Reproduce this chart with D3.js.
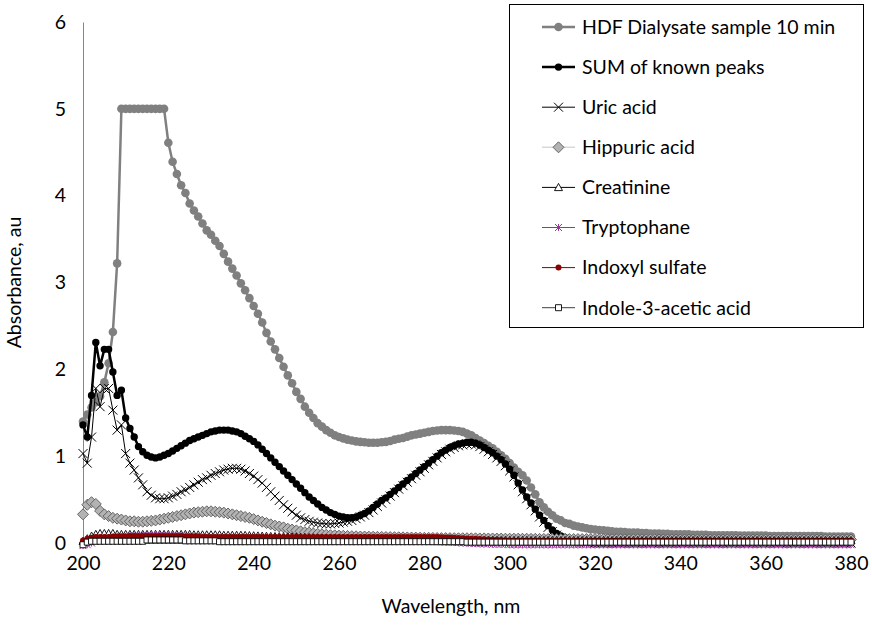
<!DOCTYPE html>
<html lang="en">
<meta charset="utf-8">
<style>
body { margin: 0; background: #fff; }
text { font-family: Lato, "Open Sans", sans-serif; fill: #000; }
.axis path, .axis line { stroke: #868686; }
</style>
<body>
<script src="https://d3js.org/d3.v7.min.js"></script>
<script>

// wavelength grid, 1 nm steps 200..380
var wavelength = d3.range(200, 381);

var hdf = [
  1.40, 1.48, 1.56, 1.62, 1.69, 1.85, 2.07, 2.43, 3.22, 5.00,
  5.00, 5.00, 5.00, 5.00, 5.00, 5.00, 5.00, 5.00, 5.00, 5.00,
  4.61, 4.39, 4.25, 4.12, 4.03, 3.91, 3.83, 3.76, 3.68, 3.60,
  3.55, 3.48, 3.42, 3.33, 3.24, 3.16, 3.08, 2.99, 2.91, 2.82,
  2.73, 2.64, 2.54, 2.42, 2.32, 2.23, 2.13, 2.03, 1.93, 1.84,
  1.74, 1.66, 1.57, 1.50, 1.44, 1.38, 1.34, 1.30, 1.27, 1.24,
  1.22, 1.205, 1.19, 1.18, 1.17, 1.165, 1.16, 1.155, 1.155, 1.155,
  1.16, 1.165, 1.175, 1.19, 1.20, 1.21, 1.225, 1.24, 1.25, 1.26,
  1.27, 1.28, 1.29, 1.295, 1.30, 1.30, 1.30, 1.295, 1.29, 1.28,
  1.26, 1.24, 1.21, 1.18, 1.15, 1.12, 1.09, 1.05, 1.01, 0.97,
  0.92, 0.87, 0.82, 0.78, 0.72, 0.64, 0.56, 0.47, 0.41, 0.36,
  0.32, 0.28, 0.26, 0.23, 0.22, 0.20, 0.19, 0.18, 0.17, 0.16,
  0.155, 0.15, 0.145, 0.14, 0.135, 0.13, 0.13, 0.125, 0.12, 0.12,
  0.12, 0.115, 0.115, 0.11, 0.11, 0.11, 0.105, 0.105, 0.10, 0.10,
  0.10, 0.10, 0.10, 0.095, 0.095, 0.095, 0.095, 0.09, 0.09, 0.09,
  0.09, 0.09, 0.09, 0.09, 0.085, 0.085, 0.085, 0.085, 0.085, 0.085,
  0.085, 0.08, 0.08, 0.08, 0.08, 0.08, 0.08, 0.08, 0.08, 0.08,
  0.08, 0.08, 0.08, 0.08, 0.075, 0.075, 0.075, 0.075, 0.075, 0.075, 0.075
];

var sumPeaks = [
  1.36, 1.22, 1.70, 2.31, 2.04, 2.23, 2.23, 1.97, 1.70, 1.76,
  1.44, 1.32, 1.22, 1.11, 1.05, 1.01, 0.99, 0.98, 0.99, 1.01,
  1.03, 1.06, 1.09, 1.12, 1.15, 1.18, 1.20, 1.22, 1.24, 1.26,
  1.28, 1.29, 1.30, 1.30, 1.30, 1.29, 1.28, 1.26, 1.23, 1.20,
  1.17, 1.13, 1.08, 1.03, 0.98, 0.93, 0.88, 0.83, 0.78, 0.73,
  0.68, 0.63, 0.58, 0.53, 0.49, 0.45, 0.41, 0.38, 0.35, 0.33,
  0.31, 0.30, 0.29, 0.29, 0.30, 0.32, 0.34, 0.37, 0.41, 0.45,
  0.49, 0.52, 0.56, 0.60, 0.64, 0.68, 0.72, 0.76, 0.80, 0.84,
  0.88, 0.92, 0.96, 1.00, 1.04, 1.07, 1.10, 1.12, 1.14, 1.15,
  1.16, 1.16, 1.15, 1.13, 1.10, 1.07, 1.04, 1.00, 0.96, 0.91,
  0.85, 0.78, 0.69, 0.61, 0.53, 0.46, 0.39, 0.32, 0.26, 0.20,
  0.15, 0.11, 0.08, 0.06, 0.045, 0.035, 0.03, 0.03, 0.03, 0.03,
  0.03, 0.03, 0.03, 0.03, 0.03, 0.03, 0.03, 0.03, 0.03, 0.03,
  0.03, 0.03, 0.03, 0.03, 0.03, 0.03, 0.03, 0.03, 0.03, 0.03,
  0.03, 0.03, 0.03, 0.03, 0.03, 0.03, 0.03, 0.03, 0.03, 0.03,
  0.03, 0.03, 0.03, 0.03, 0.03, 0.03, 0.03, 0.03, 0.03, 0.03,
  0.03, 0.03, 0.03, 0.03, 0.03, 0.03, 0.03, 0.03, 0.03, 0.03,
  0.03, 0.03, 0.03, 0.03, 0.03, 0.03, 0.03, 0.03, 0.03, 0.03, 0.03
];

var uricAcid = [
  1.03, 0.92, 1.22, 1.78, 1.57, 1.78, 1.78, 1.53, 1.30, 1.36,
  1.03, 0.92, 0.84, 0.75, 0.67, 0.59, 0.55, 0.52, 0.51, 0.51,
  0.52, 0.54, 0.56, 0.59, 0.61, 0.64, 0.67, 0.70, 0.73, 0.75,
  0.78, 0.80, 0.82, 0.84, 0.85, 0.86, 0.86, 0.85, 0.83, 0.80,
  0.77, 0.73, 0.69, 0.64, 0.59, 0.54, 0.49, 0.44, 0.40, 0.36,
  0.32, 0.29, 0.27, 0.25, 0.24, 0.23, 0.225, 0.22, 0.22, 0.225,
  0.23, 0.24, 0.25, 0.26, 0.28, 0.30, 0.32, 0.35, 0.38, 0.42,
  0.46, 0.50, 0.54, 0.58, 0.62, 0.66, 0.70, 0.74, 0.78, 0.82,
  0.86, 0.90, 0.94, 0.98, 1.02, 1.05, 1.08, 1.10, 1.12, 1.13,
  1.14, 1.14, 1.13, 1.11, 1.08, 1.05, 1.02, 0.98, 0.94, 0.89,
  0.83, 0.76, 0.67, 0.59, 0.51, 0.44, 0.37, 0.30, 0.24, 0.18,
  0.13, 0.09, 0.06, 0.04, 0.025, 0.015, 0.01, 0.01, 0.005, 0.005,
  0, 0, 0, 0, 0, 0, 0, 0, 0, 0,
  0, 0, 0, 0, 0, 0, 0, 0, 0, 0,
  0, 0, 0, 0, 0, 0, 0, 0, 0, 0,
  0, 0, 0, 0, 0, 0, 0, 0, 0, 0,
  0, 0, 0, 0, 0, 0, 0, 0, 0, 0,
  0, 0, 0, 0, 0, 0, 0, 0, 0, 0, 0
];

var hippuricAcid = [
  0.33, 0.44, 0.47, 0.45, 0.37, 0.33, 0.31, 0.29, 0.28, 0.27,
  0.26, 0.25, 0.25, 0.245, 0.245, 0.25, 0.255, 0.26, 0.27, 0.28,
  0.29, 0.30, 0.31, 0.32, 0.33, 0.34, 0.35, 0.355, 0.36, 0.365,
  0.365, 0.36, 0.355, 0.35, 0.34, 0.33, 0.32, 0.31, 0.30, 0.29,
  0.275, 0.26, 0.245, 0.23, 0.215, 0.20, 0.19, 0.18, 0.165, 0.155,
  0.145, 0.135, 0.125, 0.12, 0.11, 0.105, 0.10, 0.095, 0.09, 0.088,
  0.085, 0.083, 0.081, 0.079, 0.077, 0.075, 0.074, 0.073, 0.072, 0.071,
  0.07, 0.069, 0.068, 0.067, 0.066, 0.065, 0.064, 0.063, 0.062, 0.061,
  0.06, 0.06, 0.059, 0.058, 0.057, 0.057, 0.056, 0.056, 0.055, 0.055,
  0.055, 0.054, 0.054, 0.053, 0.053, 0.052, 0.052, 0.051, 0.051, 0.05,
  0.05, 0.05, 0.05, 0.049, 0.049, 0.048, 0.048, 0.047, 0.047, 0.046,
  0.046, 0.046, 0.045, 0.045, 0.045, 0.045, 0.045, 0.045, 0.045, 0.045,
  0.045, 0.045, 0.045, 0.044, 0.044, 0.044, 0.044, 0.043, 0.043, 0.043,
  0.043, 0.042, 0.042, 0.042, 0.042, 0.041, 0.041, 0.041, 0.041, 0.04,
  0.04, 0.04, 0.04, 0.04, 0.04, 0.04, 0.04, 0.04, 0.04, 0.04,
  0.04, 0.04, 0.04, 0.04, 0.04, 0.04, 0.04, 0.04, 0.04, 0.04,
  0.04, 0.04, 0.04, 0.04, 0.04, 0.04, 0.04, 0.04, 0.04, 0.04,
  0.04, 0.04, 0.04, 0.04, 0.04, 0.04, 0.04, 0.04, 0.04, 0.04, 0.04
];

var creatinine = [
  0.02, 0.05, 0.08, 0.10, 0.11, 0.11, 0.11, 0.11, 0.10, 0.10,
  0.10, 0.10, 0.10, 0.10, 0.10, 0.10, 0.10, 0.10, 0.10, 0.10,
  0.10, 0.10, 0.10, 0.10, 0.10, 0.10, 0.095, 0.095, 0.095, 0.095,
  0.095, 0.095, 0.095, 0.09, 0.09, 0.09, 0.09, 0.09, 0.088, 0.086,
  0.084, 0.082, 0.08, 0.078, 0.076, 0.075, 0.074, 0.073, 0.072, 0.071,
  0.07, 0.068, 0.066, 0.064, 0.062, 0.06, 0.058, 0.056, 0.055, 0.054,
  0.053, 0.052, 0.051, 0.05, 0.05, 0.05, 0.049, 0.048, 0.047, 0.046,
  0.045, 0.044, 0.043, 0.042, 0.041, 0.04, 0.04, 0.039, 0.038, 0.037,
  0.036, 0.035, 0.035, 0.034, 0.033, 0.032, 0.032, 0.031, 0.03, 0.03,
  0.03, 0.03, 0.03, 0.03, 0.03, 0.03, 0.03, 0.03, 0.03, 0.03,
  0.03, 0.03, 0.03, 0.03, 0.03, 0.03, 0.03, 0.03, 0.03, 0.03,
  0.03, 0.03, 0.03, 0.03, 0.03, 0.03, 0.03, 0.03, 0.03, 0.03,
  0.03, 0.03, 0.03, 0.03, 0.03, 0.03, 0.03, 0.03, 0.03, 0.03,
  0.03, 0.03, 0.03, 0.03, 0.03, 0.03, 0.03, 0.03, 0.03, 0.03,
  0.03, 0.03, 0.03, 0.03, 0.03, 0.03, 0.03, 0.03, 0.03, 0.03,
  0.03, 0.03, 0.03, 0.03, 0.03, 0.03, 0.03, 0.03, 0.03, 0.03,
  0.03, 0.03, 0.03, 0.03, 0.03, 0.03, 0.03, 0.03, 0.03, 0.03,
  0.03, 0.03, 0.03, 0.03, 0.03, 0.03, 0.03, 0.03, 0.03, 0.03, 0.03
];

var tryptophane = [
  -0.03, -0.02, 0.00, 0.02, 0.03, 0.04, 0.05, 0.06, 0.07, 0.07,
  0.075, 0.08, 0.08, 0.08, 0.085, 0.085, 0.085, 0.085, 0.085, 0.085,
  0.085, 0.085, 0.08, 0.08, 0.08, 0.075, 0.07, 0.07, 0.065, 0.06,
  0.055, 0.05, 0.05, 0.045, 0.04, 0.04, 0.035, 0.035, 0.03, 0.03,
  0.03, 0.025, 0.025, 0.025, 0.02, 0.02, 0.02, 0.02, 0.02, 0.02,
  0.02, 0.02, 0.02, 0.02, 0.02, 0.02, 0.02, 0.02, 0.02, 0.02,
  0.02, 0.02, 0.02, 0.02, 0.02, 0.02, 0.02, 0.02, 0.02, 0.02,
  0.02, 0.02, 0.02, 0.02, 0.02, 0.02, 0.02, 0.02, 0.02, 0.02,
  0.02, 0.02, 0.02, 0.015, 0.015, 0.01, 0.01, 0.005, 0.005, 0.0,
  0.0, -0.005, -0.005, -0.01, -0.01, -0.01, -0.015, -0.015, -0.015, -0.015,
  -0.02, -0.02, -0.02, -0.02, -0.02, -0.02, -0.02, -0.02, -0.02, -0.02,
  -0.02, -0.02, -0.02, -0.02, -0.02, -0.02, -0.02, -0.02, -0.02, -0.02,
  -0.02, -0.02, -0.02, -0.02, -0.02, -0.02, -0.02, -0.02, -0.02, -0.02,
  -0.02, -0.02, -0.02, -0.02, -0.02, -0.02, -0.02, -0.02, -0.02, -0.02,
  -0.02, -0.02, -0.02, -0.02, -0.02, -0.02, -0.02, -0.02, -0.02, -0.02,
  -0.02, -0.02, -0.02, -0.02, -0.02, -0.02, -0.02, -0.02, -0.02, -0.02,
  -0.02, -0.02, -0.02, -0.02, -0.02, -0.02, -0.02, -0.02, -0.02, -0.02,
  -0.02, -0.02, -0.02, -0.02, -0.02, -0.02, -0.02, -0.02, -0.02, -0.02, -0.02
];

var indoxylSulfate = [
  0.03, 0.05, 0.06, 0.07, 0.07, 0.07, 0.07, 0.075, 0.075, 0.075,
  0.075, 0.08, 0.08, 0.08, 0.08, 0.08, 0.08, 0.08, 0.08, 0.08,
  0.08, 0.08, 0.08, 0.08, 0.075, 0.075, 0.075, 0.075, 0.07, 0.07,
  0.07, 0.07, 0.07, 0.07, 0.07, 0.07, 0.07, 0.07, 0.07, 0.07,
  0.07, 0.07, 0.07, 0.07, 0.07, 0.07, 0.07, 0.07, 0.07, 0.07,
  0.07, 0.07, 0.07, 0.07, 0.07, 0.07, 0.07, 0.07, 0.07, 0.07,
  0.07, 0.07, 0.07, 0.07, 0.07, 0.07, 0.07, 0.07, 0.07, 0.07,
  0.07, 0.07, 0.07, 0.07, 0.07, 0.07, 0.07, 0.07, 0.07, 0.07,
  0.07, 0.07, 0.07, 0.068, 0.066, 0.064, 0.062, 0.06, 0.058, 0.055,
  0.052, 0.05, 0.048, 0.045, 0.042, 0.04, 0.038, 0.036, 0.034, 0.032,
  0.03, 0.03, 0.03, 0.03, 0.03, 0.03, 0.03, 0.03, 0.03, 0.03,
  0.03, 0.03, 0.03, 0.03, 0.03, 0.03, 0.03, 0.03, 0.03, 0.03,
  0.03, 0.03, 0.03, 0.03, 0.03, 0.03, 0.03, 0.03, 0.03, 0.03,
  0.03, 0.03, 0.03, 0.03, 0.03, 0.03, 0.03, 0.03, 0.03, 0.03,
  0.03, 0.03, 0.03, 0.03, 0.03, 0.03, 0.03, 0.03, 0.03, 0.03,
  0.03, 0.03, 0.03, 0.03, 0.03, 0.03, 0.03, 0.03, 0.03, 0.03,
  0.03, 0.03, 0.03, 0.03, 0.03, 0.03, 0.03, 0.03, 0.03, 0.03,
  0.03, 0.03, 0.03, 0.03, 0.03, 0.03, 0.03, 0.03, 0.03, 0.03, 0.03
];

var indoleAceticAcid = [
  -0.02, 0.01, 0.02, 0.02, 0.02, 0.02, 0.02, 0.02, 0.02, 0.02,
  0.02, 0.02, 0.02, 0.02, 0.02, 0.035, 0.035, 0.035, 0.035, 0.035,
  0.035, 0.035, 0.035, 0.035, 0.025, 0.025, 0.025, 0.025, 0.025, 0.025,
  0.025, 0.025, 0.015, 0.015, 0.015, 0.015, 0.015, 0.015, 0.015, 0.015,
  0.015, 0.015, 0.015, 0.015, 0.015, 0.015, 0.015, 0.015, 0.015, 0.015,
  0.015, 0.015, 0.015, 0.015, 0.015, 0.015, 0.015, 0.015, 0.015, 0.015,
  0.015, 0.015, 0.015, 0.015, 0.015, 0.015, 0.015, 0.015, 0.015, 0.015,
  0.015, 0.015, 0.015, 0.015, 0.015, 0.015, 0.015, 0.015, 0.015, 0.015,
  0.015, 0.015, 0.015, 0.015, 0.015, 0.015, 0.015, 0.015, 0.015, 0.015,
  0.01, 0.01, 0.01, 0.01, 0.01, 0.01, 0.01, 0.01, 0.01, 0.01,
  0.01, 0.01, 0.01, 0.01, 0.01, 0.01, 0.01, 0.01, 0.01, 0.01,
  0.01, 0.01, 0.01, 0.01, 0.01, 0.01, 0.01, 0.01, 0.01, 0.01,
  0.01, 0.01, 0.01, 0.01, 0.01, 0.01, 0.01, 0.01, 0.01, 0.01,
  0.01, 0.01, 0.01, 0.01, 0.01, 0.01, 0.01, 0.01, 0.01, 0.01,
  0.01, 0.01, 0.01, 0.01, 0.01, 0.01, 0.01, 0.01, 0.01, 0.01,
  0.01, 0.01, 0.01, 0.01, 0.01, 0.01, 0.01, 0.01, 0.01, 0.01,
  0.01, 0.01, 0.01, 0.01, 0.01, 0.01, 0.01, 0.01, 0.01, 0.01,
  0.01, 0.01, 0.01, 0.01, 0.01, 0.01, 0.01, 0.01, 0.01, 0.01, 0.01
];

var xTicks = [200, 220, 240, 260, 280, 300, 320, 340, 360, 380];
var yTicks = [0, 1, 2, 3, 4, 5, 6];

var fontSize = "19.5px";

// marker shapes (half-size s)
function marker(type, s) {
  var p = d3.path();
  if (type == "circle") { p.arc(0, 0, s, 0, 2 * Math.PI); }
  if (type == "diamond") { p.moveTo(0, -s); p.lineTo(s, 0); p.lineTo(0, s); p.lineTo(-s, 0); p.closePath(); }
  if (type == "triangle") { p.moveTo(0, -s); p.lineTo(s, s * 0.8); p.lineTo(-s, s * 0.8); p.closePath(); }
  if (type == "square") { p.rect(-s, -s, 2 * s, 2 * s); }
  if (type == "times") { p.moveTo(-s, -s); p.lineTo(s, s); p.moveTo(-s, s); p.lineTo(s, -s); }
  if (type == "asterisk") { p.moveTo(-s, -s); p.lineTo(s, s); p.moveTo(-s, s); p.lineTo(s, -s); p.moveTo(0, -s); p.lineTo(0, s); }
  return p.toString();
}

var series = [
  {name: "HDF Dialysate sample 10 min", values: hdf, line: "#808080", lw: 2.5, shape: "circle", s: 4.3, fill: "#808080", stroke: "none", sw: 0},
  {name: "SUM of known peaks", values: sumPeaks, line: "#000", lw: 2.5, shape: "circle", s: 3.7, fill: "#000", stroke: "none", sw: 0},
  {name: "Uric acid", values: uricAcid, line: "#000", lw: 1, shape: "times", s: 4.5, fill: "none", stroke: "#000", sw: 1},
  {name: "Hippuric acid", values: hippuricAcid, line: "#d9d9d9", lw: 1.5, shape: "diamond", s: 5.5, fill: "#b3b3b3", stroke: "#595959", sw: 0.9},
  {name: "Creatinine", values: creatinine, line: "#000", lw: 1, shape: "triangle", s: 4, fill: "#fff", stroke: "#000", sw: 0.9},
  {name: "Tryptophane", values: tryptophane, line: "#993399", lw: 1, shape: "asterisk", s: 3.5, fill: "none", stroke: "#993399", sw: 1},
  {name: "Indoxyl sulfate", values: indoxylSulfate, line: "#8b0000", lw: 1, shape: "circle", s: 3, fill: "#8b0000", stroke: "none", sw: 0},
  {name: "Indole-3-acetic acid", values: indoleAceticAcid, line: "#404040", lw: 1, shape: "square", s: 3, fill: "#fff", stroke: "#000", sw: 0.9}
];

var width = 872, height = 627;
var x = d3.scaleLinear().domain([200, 380]).range([83, 851]);
var y = d3.scaleLinear().domain([0, 6]).range([543, 22]);

var svg = d3.select("body").append("svg")
    .attr("width", width)
    .attr("height", height);

// axes
svg.append("g")
    .attr("class", "axis")
    .attr("transform", "translate(0," + y(0) + ")")
    .call(d3.axisBottom(x).tickValues(xTicks).tickSize(0).tickPadding(13))
    .call(function(g) { g.selectAll("text").style("font-size", fontSize).style("font-family", "Lato"); });

svg.append("g")
    .attr("class", "axis")
    .attr("transform", "translate(" + x(200) + ",0)")
    .call(d3.axisLeft(y).tickValues(yTicks).tickFormat(d3.format("d")).tickSize(0).tickPadding(17))
    .call(function(g) { g.selectAll("text").style("font-size", fontSize).style("font-family", "Lato"); });

svg.append("text")
    .attr("x", 451)
    .attr("y", 613)
    .attr("text-anchor", "middle")
    .style("font-size", fontSize)
    .text("Wavelength, nm");

svg.append("text")
    .attr("transform", "translate(21," + ((y(0) + y(6)) / 2) + ") rotate(-90)")
    .attr("text-anchor", "middle")
    .style("font-size", fontSize)
    .text("Absorbance, au");

// series
var line = d3.line()
    .x(function(d, i) { return x(wavelength[i]); })
    .y(function(d) { return y(d); });

series.forEach(function(s) {
  var g = svg.append("g");
  g.append("path")
      .attr("d", line(s.values))
      .attr("fill", "none")
      .attr("stroke", s.line)
      .attr("stroke-width", s.lw)
      .attr("stroke-linejoin", "round");
  g.selectAll("path.m")
      .data(s.values)
    .enter().append("path")
      .attr("class", "m")
      .attr("transform", function(d, i) { return "translate(" + x(wavelength[i]) + "," + y(d) + ")"; })
      .attr("d", marker(s.shape, s.s))
      .attr("fill", s.fill)
      .attr("stroke", s.stroke)
      .attr("stroke-width", s.sw);
});

// legend
var legend = svg.append("g");
legend.append("rect")
    .attr("x", 509.5).attr("y", 4.5)
    .attr("width", 354).attr("height", 323)
    .attr("fill", "#fff")
    .attr("stroke", "#000")
    .attr("stroke-width", 1);

series.forEach(function(s, i) {
  var ly = 27 + i * 40.1;
  legend.append("line")
      .attr("x1", 542).attr("x2", 575)
      .attr("y1", ly).attr("y2", ly)
      .attr("stroke", s.line)
      .attr("stroke-width", s.lw);
  legend.append("path")
      .attr("transform", "translate(558.5," + ly + ")")
      .attr("d", marker(s.shape, s.s))
      .attr("fill", s.fill)
      .attr("stroke", s.stroke)
      .attr("stroke-width", s.sw);
  legend.append("text")
      .attr("x", 582)
      .attr("y", ly)
      .attr("dy", "0.35em")
      .style("font-size", fontSize)
      .text(s.name);
});

</script>
</body>
</html>
